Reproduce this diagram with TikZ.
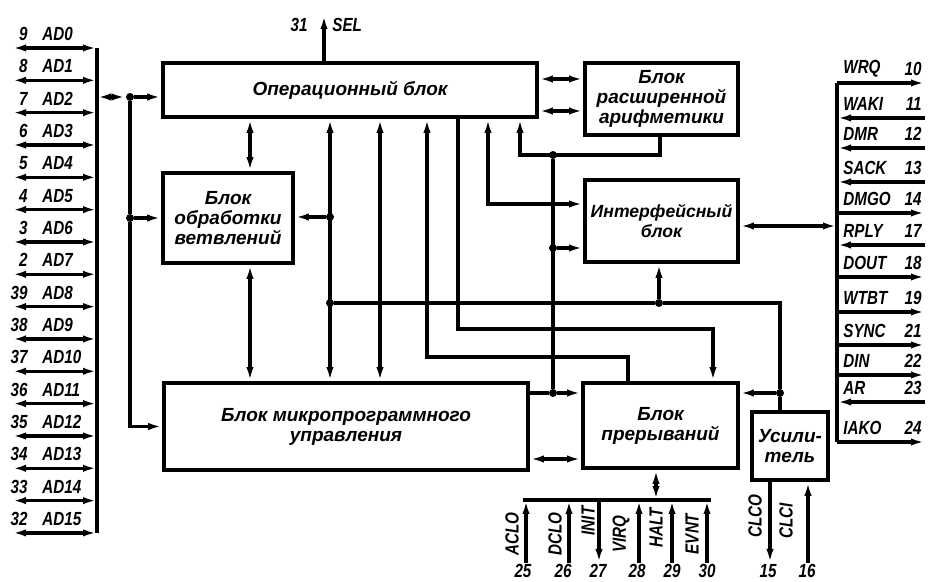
\documentclass[tikz,border=0pt]{standalone}
\usepackage{fontspec}
\setmainfont{Liberation Sans}
\newfontfamily\pinfont{Liberation Sans}[FakeStretch=0.8]
\usetikzlibrary{arrows.meta, calc}

\begin{document}
\begin{tikzpicture}[x=0.5pt, y=-0.5pt,
    blk/.style={draw, line width=1.8pt, inner sep=0pt, align=center,
      font=\fontsize{9.5}{10}\selectfont\bfseries\itshape},
    lbl/.style={font=\pinfont\fontsize{9.5}{10}\selectfont\bfseries\itshape, inner sep=0pt},
    wire/.style={line width=1.7pt},
    arr/.style={-{Latex[length=7pt, width=3.6pt]}, line width=1.7pt},
    rarr/.style={{Latex[length=7pt, width=3.6pt]}-, line width=1.7pt},
    darr/.style={{Latex[length=7pt, width=3.6pt]}-{Latex[length=7pt, width=3.6pt]}, line width=1.7pt},
    dot/.style={circle, fill, inner sep=0pt, minimum size=4pt},
  ]
  \useasboundingbox (0,0) rectangle (928,582);

  % blocks
  \node[blk, minimum width=187pt, minimum height=27pt] (ob) at (350,90) {Операционный блок};
  \node[blk, minimum width=76.5pt, minimum height=36pt] (ea) at (661.5,99) {Блок\\расширенной\\арифметики};
  \node[blk, minimum width=76.5pt, minimum height=41pt, font=\fontsize{8.8}{10}\selectfont\bfseries\itshape] (ib) at (661.5,221) {Интерфейсный\\блок};
  \node[blk, minimum width=65pt, minimum height=45pt] (bb) at (228,218) {Блок\\обработки\\ветвлений};
  \node[blk, minimum width=182pt, minimum height=43.5pt] (mc) at (346,426.5) {Блок микропрограммного\\управления};
  \node[blk, minimum width=77.5pt, minimum height=42.5pt] (ir) at (660.5,425.5) {Блок\\прерываний};
  \node[blk, minimum width=38pt, minimum height=34pt] (amp) at (790,446) {Усили-\\тель};

  % address/data pins
  \foreach \n [count=\i from 0] in {9,8,7,6,5,4,3,2,39,38,37,36,35,34,33,32} {
    \pgfmathsetmacro\y{48+32.33*\i}
    \coordinate (adl\i) at (12,\y);
    \coordinate (adr\i) at (97,\y);
    \draw[darr] (adl\i) -- (adr\i);
    \node[lbl, anchor=east] (adn\i) at (28,\y-14) {\n};
    \node[lbl, anchor=west] (ads\i) at (42,\y-14) {AD\i};
  }
  \draw[wire] (adr0) -- (adr15);

  \node[dot] (jA) at (130,97) {};
  \node[dot] (jB) at (130,218) {};
  \draw[darr] (adr0 |- jA) -- (jA);
  \draw[arr] (jA) -- (jA -| ob.west);
  \draw[wire] (jA) -- (jB);
  \draw[arr] (jB) -- (jB -| bb.west);
  \draw[arr] (jB) |- (mc.west);

  % SEL
  \coordinate (sel) at (324,15);
  \draw[arr] (sel |- ob.north) -- (sel);
  \node[lbl, anchor=east] (sn) at (308,25) {31};
  \node[lbl, anchor=west] (ss) at (332,25) {SEL};

  \draw[darr] (250,0 |- ob.south) -- (250,0 |- bb.north);
  \draw[darr] (250,0 |- bb.south) -- (250,0 |- mc.north);
  \draw[darr] (ob.east |- 0,79) -- (ea.west |- 0,79);
  \draw[darr] (ob.east |- 0,111) -- (ea.west |- 0,111);

  \node[dot] (jC) at (330,217) {};
  \node[dot] (jD) at (330,303) {};
  \draw[darr] (jC |- ob.south) -- (jC |- mc.north);
  \draw[arr] (jC) -- (jC -| bb.east);
  \draw[darr] (380,0 |- ob.south) -- (380,0 |- mc.north);
  \draw[arr] (628,0 |- ir.north) |- (427,357) -- (427,0 |- ob.south);
  \draw[arr] (458,0 |- ob.south) |- (713,329) -- (713,0 |- ir.north);
  \draw[darr] (488,0 |- ob.south) |- (ib.west |- 0,204);

  \node[dot] (jE) at (553,155) {};
  \node[dot] (jF) at (553,248) {};
  \node[dot] (jG) at (553,393) {};
  \draw[arr] (660,0 |- ea.south) |- (520,155) -- (520,0 |- ob.south);
  \draw[wire] (jE) -- (jG);
  \draw[arr] (jF) -- (jF -| ib.west);
  \draw[wire] (mc.east |- jG) -- (jG);
  \draw[arr] (jG) -- (jG -| ir.west);
  \draw[darr] (mc.east |- 0,459) -- (ir.west |- 0,459);

  \node[dot] (jH) at (659,303) {};
  \node[dot] (jI) at (780,393) {};
  \draw[wire] (jI |- amp.north) -- (jI);
  \draw[wire] (jI) |- (jH);
  \draw[wire] (jH) -- (jD);
  \draw[arr] (jH) -- (jH |- ib.south);
  \draw[arr] (jI) -- (jI -| ir.east);

  % bus pins
  \coordinate (rbT) at (837,83);
  \coordinate (rbB) at (837,442);
  \draw[wire] (rbT) -- (rbB);
  \draw[darr] (ib.east |- 0,226) -- (rbT |- 0,226);
  \foreach \s/\n/\y/\d in {WRQ/10/83/arr, WAKI/11/118/rarr, DMR/12/148/rarr, SACK/13/182/rarr,
      DMGO/14/213/arr, RPLY/17/245/rarr, DOUT/18/277/arr, WTBT/19/312/arr,
      SYNC/21/345/arr, DIN/22/375/arr, AR/23/402/rarr, IAKO/24/442/arr} {
    \coordinate (rp\n) at (925,\y);
    \draw[\d] (rbT |- rp\n) -- (rp\n);
    \node[lbl, anchor=west] (rs\n) at (843,\y-14) {\s};
    \node[lbl, anchor=east] (rn\n) at (922,\y-14) {\n};
  }

  % interrupt lines
  \coordinate (bbL) at (523,500);
  \coordinate (bbR) at (711,500);
  \draw[wire] (bbL) -- (bbR);
  \draw[darr] (656,0 |- ir.south) -- (656,0 |- bbL);
  \foreach \s/\n/\x/\d/\lx/\ly/\nx in {ACLO/25/526/rarr/512/534/523, DCLO/26/569/rarr/555/534/563,
      INIT/27/599/arr/588/521/598, VIRQ/28/639/rarr/621/534/637,
      HALT/29/672/rarr/656/528/672, EVNT/30/707/rarr/692/534/707} {
    \coordinate (bp\n) at (\x,563);
    \draw[\d] (bp\n |- bbL) -- (bp\n);
    \node[lbl, rotate=90] (bs\n) at (\lx,\ly) {\s};
    \node[lbl] (bn\n) at (\nx,571) {\n};
  }

  % clock
  \coordinate (ck15) at (770,563);
  \coordinate (ck16) at (808,563);
  \draw[arr] (ck15 |- amp.south) -- (ck15);
  \draw[rarr] (ck16 |- amp.south) -- (ck16);
  \node[lbl, rotate=90] (cs15) at (755,516) {CLCO};
  \node[lbl, rotate=90] (cs16) at (786,521) {CLCI};
  \node[lbl] (cn15) at (768,571) {15};
  \node[lbl] (cn16) at (807,571) {16};

\end{tikzpicture}
\end{document}
